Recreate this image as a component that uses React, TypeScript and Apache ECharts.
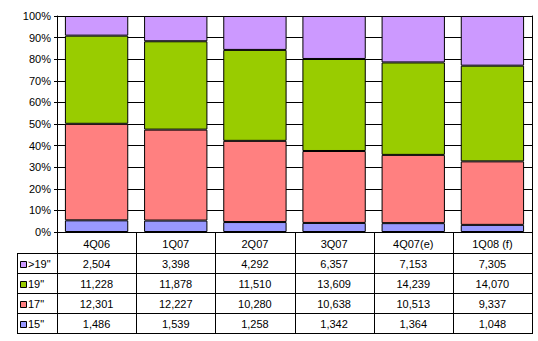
import React, { useEffect, useRef } from "react";
import * as echarts from "echarts";

const categories = ["4Q06", "1Q07", "2Q07", "3Q07", "4Q07(e)", "1Q08 (f)"];
const seriesNames = ['15"', '17"', '19"', '>19"'];
const s15 = [1486, 1539, 1258, 1342, 1364, 1048];
const s17 = [12301, 12227, 10280, 10638, 10513, 9337];
const s19 = [11228, 11878, 11510, 13609, 14239, 14070];
const sOver19 = [2504, 3398, 4292, 6357, 7153, 7305];
const colors = ["#9999FF", "#FF8080", "#99CC00", "#CC99FF"];
const yTicks = [0, 10, 20, 30, 40, 50, 60, 70, 80, 90, 100];

const FONT = "'Liberation Sans', Arial, sans-serif";

export default function App() {
  const ref = useRef<HTMLDivElement>(null);
  useEffect(() => {
    if (!ref.current) return;
    const chart = echarts.init(ref.current, null, { renderer: "svg" });
    const all = [s15, s17, s19, sOver19];
    const totals = categories.map((_, i) => all.reduce((a, s) => a + s[i], 0));
    const pct = all.map((s) => s.map((v, i) => (v / totals[i]) * 100));

    const plotLeft = 57;
    const plotRight = 532;
    const plotTop = 16;
    const plotBottom = 232;
    const headerBottom = 253;
    const rowH = 20;
    const tableLeft = 17;
    const W = 538;
    const H = 341;
    const catW = (plotRight - plotLeft) / categories.length;

    const graphics: any[] = [];
    const line = (x1: number, y1: number, x2: number, y2: number) =>
      graphics.push({
        type: "line",
        silent: true,
        shape: { x1, y1, x2, y2 },
        style: { stroke: "#000", lineWidth: 1 },
      });
    const nRows = 4;
    const tableBottom = headerBottom + nRows * rowH;
    // horizontal lines
    for (let r = 0; r <= nRows; r++) {
      const y = headerBottom + r * rowH + 0.5;
      line(tableLeft + 0.5, y, plotRight + 0.5, y);
    }
    // vertical lines
    line(tableLeft + 0.5, headerBottom, tableLeft + 0.5, tableBottom + 1);
    for (let c = 0; c <= categories.length; c++) {
      const x = Math.round(plotLeft + c * catW) + 0.5;
      line(x, plotBottom, x, tableBottom + 1);
    }
    // rows: >19", 19", 17", 15"
    const rowOrder = [3, 2, 1, 0];
    rowOrder.forEach((si, r) => {
      const yc = headerBottom + r * rowH + rowH / 2 + 1;
      graphics.push({
        type: "rect",
        silent: true,
        shape: { x: 20.5, y: Math.round(yc - 3) + 0.5, width: 6, height: 6 },
        style: { fill: colors[si], stroke: "#000", lineWidth: 1 },
      });
      graphics.push({
        type: "text",
        silent: true,
        x: 28,
        y: yc,
        style: {
          text: seriesNames[si],
          font: `11px ${FONT}`,
          fill: "#000",
          textAlign: "left",
          textVerticalAlign: "middle",
        },
      });
      all[si].forEach((v, i) => {
        graphics.push({
          type: "text",
          silent: true,
          x: plotLeft + (i + 0.5) * catW,
          y: yc,
          style: {
            text: v.toLocaleString("en-US"),
            font: `11px ${FONT}`,
            fill: "#000",
            textAlign: "center",
            textVerticalAlign: "middle",
          },
        });
      });
    });

    chart.setOption({
      animation: false,
      backgroundColor: "#fff",
      grid: {
        left: plotLeft,
        right: W - plotRight,
        top: plotTop,
        bottom: H - plotBottom,
      },
      xAxis: {
        type: "category",
        data: categories,
        axisLine: { show: true, lineStyle: { color: "#000", width: 1 } },
        axisTick: { show: false },
        axisLabel: {
          margin: 6,
          fontSize: 11,
          fontFamily: FONT,
          color: "#000",
          interval: 0,
        },
      },
      yAxis: [
        {
          type: "value",
          min: 0,
          max: 100,
          interval: 10,
          axisLine: { show: true, lineStyle: { color: "#000", width: 1 } },
          axisTick: { show: true, length: 3, lineStyle: { color: "#000" } },
          splitLine: { show: true, lineStyle: { color: "#000", width: 1 } },
          axisLabel: {
            formatter: "{value}%",
            fontSize: 11,
            fontFamily: FONT,
            color: "#000",
            margin: 6,
          },
        },
        {
          type: "value",
          position: "right",
          min: 0,
          max: 100,
          interval: 10,
          axisLine: { show: true, lineStyle: { color: "#000", width: 1 } },
          axisTick: { show: false },
          splitLine: { show: false },
          axisLabel: { show: false },
        },
      ],
      series: pct.map((d, si) => ({
        name: seriesNames[si],
        type: "bar",
        stack: "total",
        data: d,
        barCategoryGap: "20%",
        itemStyle: { color: colors[si], borderColor: "#000", borderWidth: 1 },
      })),
      graphic: graphics,
    });
    return () => chart.dispose();
  }, []);
  return (
    <div
      ref={ref}
      style={{ position: "fixed", left: 0, top: 0, width: 538, height: 341 }}
    />
  );
}
